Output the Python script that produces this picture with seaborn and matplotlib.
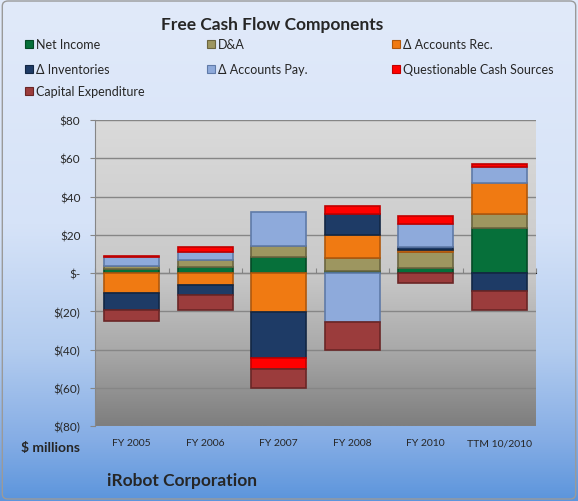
import numpy as np
import pandas as pd
import matplotlib
matplotlib.use("Agg")
import matplotlib.pyplot as plt
from matplotlib.colors import LinearSegmentedColormap
from matplotlib.patches import Rectangle, FancyBboxPatch
import seaborn as sns

# values ($ millions)
periods = ["FY 2005", "FY 2006", "FY 2007", "FY 2008", "FY 2010", "TTM 10/2010"]
net_income = [2.0, 3.0, 8.4, 0.8, 2.6, 23.3]
d_and_a = [1.5, 4.0, 5.6, 7.1, 8.4, 7.4]
accounts_rec = [-10.5, -6.1, -20.2, 11.8, 0.9, 16.3]
inventories = [-8.8, -5.3, -24.0, 11.0, 1.8, -9.6]
accounts_pay = [5.0, 3.9, 17.7, -25.8, 11.8, 8.4]
questionable = [0.6, 2.8, -5.8, 4.4, 4.4, 1.8]
capex = [-5.6, -7.9, -10.0, -14.6, -5.3, -9.6]

series_names = ["Net Income", "D&A", "\u0394 Accounts Rec.", "\u0394 Inventories",
                "\u0394 Accounts Pay.", "Questionable Cash Sources", "Capital Expenditure"]
series_vals = [net_income, d_and_a, accounts_rec, inventories, accounts_pay, questionable, capex]
series_colors = ["#06703a", "#9d9660", "#f07a12", "#1e3b66", "#8eaadb", "#ff0000", "#9b3c3c"]
edge_colors = ["#044a26", "#6b6540", "#b0580c", "#132744", "#5f7aa8", "#c00000", "#6a2626"]

sns.set_style("white")
plt.rcParams["font.family"] = ["Lato", "DejaVu Sans"]

W, H = 578, 502
fig = plt.figure(figsize=(W / 100, H / 100), dpi=100)

# figure background gradient
bg = fig.add_axes([0, 0, 1, 1], zorder=-10)
bg_cmap = LinearSegmentedColormap.from_list(
    "bg", [(0, "#e1eafa"), (0.45, "#d6e3f8"), (0.7, "#b3ccef"), (0.88, "#85ade5"), (1, "#5c95dc")])
bg.imshow(np.linspace(0, 1, 256).reshape(-1, 1), aspect="auto", cmap=bg_cmap,
          extent=[0, 1, 0, 1], origin="upper")
bg.set_xlim(0, 1)
bg.set_ylim(0, 1)
bg.axis("off")
bg.add_patch(FancyBboxPatch((0.004, 0.004), 0.992, 0.992, boxstyle="round,pad=0,rounding_size=0.01",
                            fill=False, edgecolor="#9a9a9a", linewidth=1, transform=bg.transAxes))

# plot area
left, right, top, bottom = 95, 536, 121, 427
ax = fig.add_axes([left / W, 1 - bottom / H, (right - left) / W, (bottom - top) / H])
ax.set_facecolor("none")

pos = np.zeros(len(periods))
neg = np.zeros(len(periods))
for name, vals, color, ec in zip(series_names, series_vals, series_colors, edge_colors):
    vals = np.array(vals)
    base = np.where(vals >= 0, pos, neg)
    sns.barplot(x=periods, y=vals, bottom=base, color=color, saturation=1, width=0.755,
                errorbar=None, ax=ax, edgecolor=ec, linewidth=1.2, zorder=3)
    pos += np.clip(vals, 0, None)
    neg += np.clip(vals, None, 0)

ax.set_xlim(-0.5, len(periods) - 0.5)
ax.set_ylim(-80, 80)

area_cmap = LinearSegmentedColormap.from_list(
    "area", [(0, "#dadada"), (0.5, "#c9c9c9"), (0.75, "#a9a9a9"), (1, "#7e7e7e")])
ax.imshow(np.linspace(0, 1, 256).reshape(-1, 1), aspect="auto", cmap=area_cmap,
          extent=[-0.5, len(periods) - 0.5, -80, 80], origin="upper", zorder=0)

yt = np.arange(-80, 81, 20)
ax.set_yticks(yt)
ax.set_yticklabels(["$-" if v == 0 else (f"${v}" if v > 0 else f"$({-v})") for v in yt])
ax.yaxis.grid(True, color="#868686", linewidth=1)
ax.set_axisbelow(True)
ax.set_xlabel("")
ax.set_ylabel("")
for s in ["top", "right", "bottom"]:
    ax.spines[s].set_visible(False)
ax.spines["left"].set_color("#868686")
ax.tick_params(axis="y", length=3.5, color="#868686", labelsize=8.5, pad=7, left=True)
ax.tick_params(axis="x", length=0, labelsize=7.5, pad=9)

# category axis crossing at zero
sec = ax.secondary_xaxis(0.5)
sec.set_xticks(np.arange(len(periods) + 1) - 0.5)
sec.set_xticklabels([])
sec.tick_params(length=3.5, color="#868686", direction="out")
sec.spines["bottom"].set_color("#868686")
sec.spines["bottom"].set_linewidth(1.2)

fig.text(272 / W, 1 - 25 / H, "Free Cash Flow Components", ha="center", va="center",
         fontsize=12.5, fontweight="bold")

# legend laid out as in the original (row-wise, three columns)
leg_x = [25, 207, 392]
leg_y = [45, 70, 92]
for i, (name, color, ec) in enumerate(zip(series_names, series_colors, edge_colors)):
    r, c = divmod(i, 3)
    x, y = leg_x[c], leg_y[r]
    fig.patches.append(Rectangle((x / W, 1 - (y + 4) / H), 8 / W, 8 / H, transform=fig.transFigure,
                                 facecolor=color, edgecolor=ec, linewidth=0.8))
    fig.text((x + 11) / W, 1 - y / H, name, ha="left", va="center", fontsize=9)

fig.text(21 / W, 1 - 448 / H, "$ millions", ha="left", va="center", fontsize=10, fontweight="bold")
fig.text(107 / W, 1 - 481 / H, "iRobot Corporation", ha="left", va="center", fontsize=12.5,
         fontweight="bold")

fig.savefig("out.png", dpi=100)
